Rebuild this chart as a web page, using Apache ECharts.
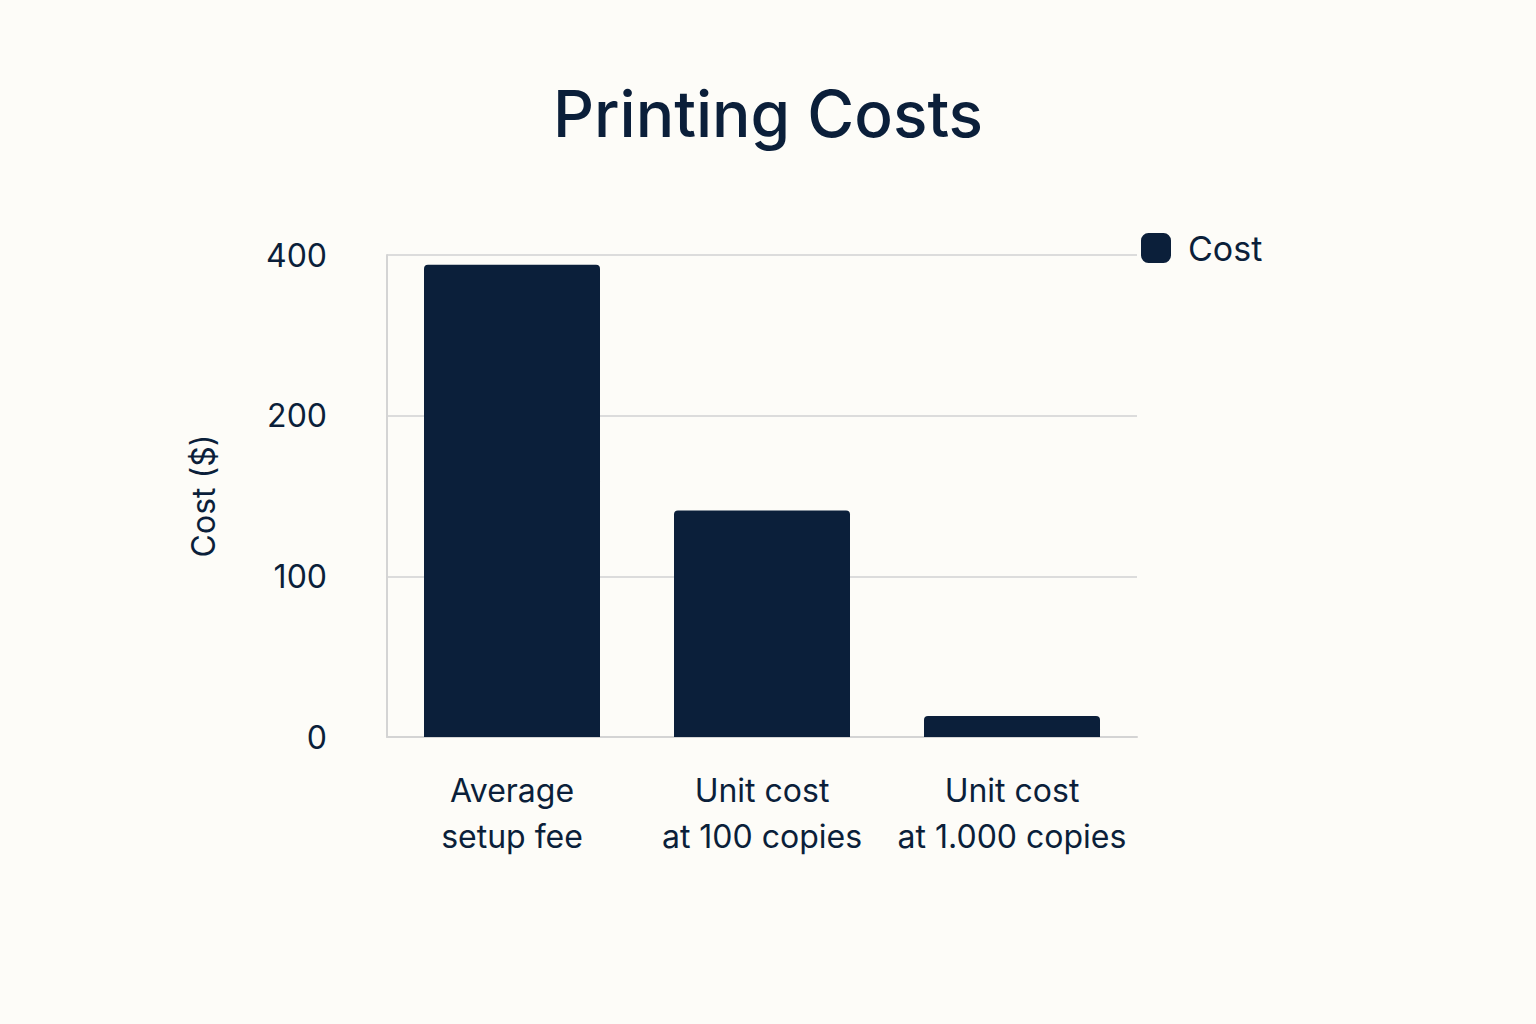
<!DOCTYPE html>
<html>
<head>
<meta charset="utf-8">
<script src="https://cdn.jsdelivr.net/npm/echarts@6/dist/echarts.min.js"></script>
<style>
  html, body { margin: 0; padding: 0; background: #fdfcf8; }
  #chart { width: 1536px; height: 1024px; }
</style>
</head>
<body>
<div id="chart"></div>
<script>
const categories = ['Average\nsetup fee', 'Unit cost\nat 100 copies', 'Unit cost\nat 1.000 copies']
const costs = [388, 141, 13]
const tickValues = [0, 100, 200, 400]

// the axis is spaced evenly by tick, not linearly: map value -> tick position
function toPos (v) {
  for (let i = 1; i < tickValues.length; i++) {
    if (v <= tickValues[i]) {
      const a = tickValues[i - 1]
      const b = tickValues[i]
      return i - 1 + (v - a) / (b - a)
    }
  }
  return tickValues.length - 1
}

const ink = '#0b1f3a'
const font = 'Inter, "Noto Sans", sans-serif'
const chart = echarts.init(document.getElementById('chart'), '', { renderer: 'svg' })

chart.setOption({
  backgroundColor: '#fdfcf8',
  textStyle: { fontFamily: font },
  title: {
    text: 'Printing Costs',
    left: 'center',
    top: 76,
    textStyle: { fontSize: 64, fontWeight: 500, color: ink, fontFamily: font }
  },
  legend: {
    left: 1136,
    top: 226,
    itemWidth: 30,
    itemHeight: 30,
    itemGap: 10,
    icon: 'roundRect',
    textStyle: { fontSize: 34, color: ink, fontFamily: font, padding: [0, 0, 0, 12] },
    data: ['Cost']
  },
  grid: { left: 387, right: 399, top: 255, bottom: 287 },
  xAxis: {
    type: 'category',
    data: categories,
    axisLine: { lineStyle: { color: '#d4d4d4', width: 2 } },
    axisTick: { show: false },
    axisLabel: { interval: 0, fontSize: 32, color: ink, lineHeight: 46, margin: 30, fontFamily: font }
  },
  yAxis: {
    type: 'value',
    min: 0,
    max: tickValues.length - 1,
    interval: 1,
    name: 'Cost ($)',
    nameLocation: 'middle',
    nameGap: 168,
    nameTextStyle: { fontSize: 32, color: ink, fontFamily: font },
    axisLine: { show: true, lineStyle: { color: '#d4d4d4', width: 2 } },
    axisTick: { show: false },
    splitLine: { lineStyle: { color: '#dcdcdc', width: 2 } },
    axisLabel: {
      fontSize: 32,
      color: ink,
      margin: 60,
      fontFamily: font,
      formatter: (v) => tickValues[Math.round(v)]
    }
  },
  series: [{
    name: 'Cost',
    type: 'bar',
    barWidth: 176,
    itemStyle: { color: ink, borderRadius: [4, 4, 0, 0] },
    data: costs.map((c) => ({ value: toPos(c), raw: c }))
  }]
})
</script>
</body>
</html>
